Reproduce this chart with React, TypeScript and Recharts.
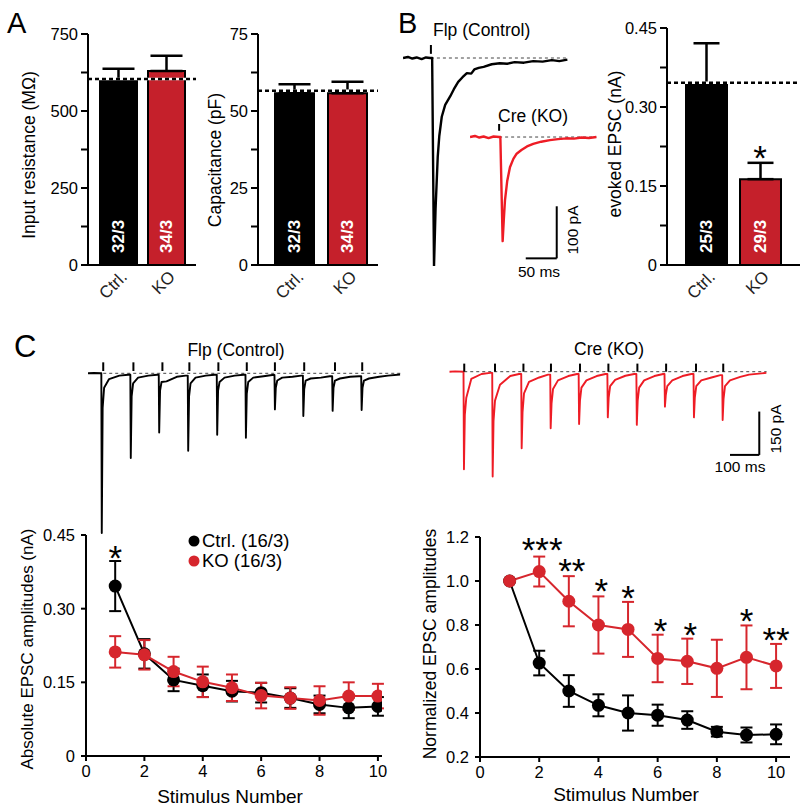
import React from 'react';
import {
  ComposedChart, LineChart, Bar, Line, XAxis, YAxis, ErrorBar, ReferenceLine, ReferenceDot, LabelList, Cell,
} from 'recharts';

const W = 800;
const H = 811;
const FONT = "'Liberation Sans', Arial, Helvetica, sans-serif";
const BLACK = '#000000';
const RED_BAR = '#c5202b';
const RED = '#d6262d';
const TRACE_RED = '#ee1c25';

// ---------- Panel A / B bar data ----------
const groups = ['Ctrl.', 'KO'];
const barColors = [BLACK, RED_BAR];

const resistance = [600, 630];
const resistanceErr = [37, 49];
const resistanceRef = 604;
const resistanceN = ['32/3', '34/3'];
const resistanceTicks = [0, 125, 250, 375, 500, 625, 750];
const resistanceTickLabels = ['0', '', '250', '', '500', '', '750'];

const capacitance = [55.8, 55.8];
const capacitanceErr = [2.9, 3.7];
const capacitanceRef = 56.6;
const capacitanceN = ['32/3', '34/3'];
const capacitanceTicks = [0, 12.5, 25, 37.5, 50, 62.5, 75];
const capacitanceTickLabels = ['0', '', '25', '', '50', '', '75'];

const evoked = [0.342, 0.163];
const evokedErr = [0.079, 0.031];
const evokedRef = 0.346;
const evokedN = ['25/3', '29/3'];
const evokedTicks = [0, 0.075, 0.15, 0.225, 0.3, 0.375, 0.45];
const evokedTickLabels = ['0', '', '0.15', '', '0.30', '', '0.45'];
const evokedStars = [{ name: 'KO', y: 0.218, label: '*' }];

// ---------- Panel C line data ----------
const stimulus = [1, 2, 3, 4, 5, 6, 7, 8, 9, 10];
const absCtrl = [0.346, 0.208, 0.155, 0.143, 0.132, 0.129, 0.118, 0.105, 0.098, 0.101];
const absCtrlErr = [0.051, 0.03, 0.023, 0.023, 0.021, 0.02, 0.02, 0.018, 0.021, 0.019];
const absKO = [0.212, 0.206, 0.172, 0.151, 0.139, 0.123, 0.118, 0.113, 0.122, 0.122];
const absKOErr = [0.032, 0.03, 0.03, 0.031, 0.027, 0.026, 0.022, 0.029, 0.028, 0.025];
const absTicksY = [0, 0.15, 0.3, 0.45];
const absTickLabelsY = ['0', '0.15', '0.30', '0.45'];
const absStars = [{ x: 1, y: 0.419, label: '*' }];

const normCtrl = [1.0, 0.627, 0.5, 0.435, 0.4, 0.39, 0.368, 0.315, 0.3, 0.303];
const normCtrlErr = [0, 0.056, 0.072, 0.05, 0.08, 0.048, 0.04, 0.022, 0.034, 0.045];
const normKO = [1.0, 1.043, 0.908, 0.8, 0.78, 0.648, 0.635, 0.603, 0.653, 0.614];
const normKOErr = [0, 0.068, 0.114, 0.13, 0.125, 0.108, 0.103, 0.13, 0.145, 0.1];
const normTicksY = [0.2, 0.4, 0.6, 0.8, 1.0, 1.2];
const normTickLabelsY = ['0.2', '0.4', '0.6', '0.8', '1.0', '1.2'];
const normStars = [
  { x: 2.1, y: 1.179, label: '***' },
  { x: 3.1, y: 1.082, label: '**' },
  { x: 4.1, y: 0.99, label: '*' },
  { x: 5.0, y: 0.959, label: '*' },
  { x: 6.1, y: 0.809, label: '*' },
  { x: 7.1, y: 0.791, label: '*' },
  { x: 9.0, y: 0.855, label: '*' },
  { x: 10.0, y: 0.768, label: '**' },
];
const stimTicksX = [0, 2, 4, 6, 8, 10];

// ---------- Traces (ms, pA) ----------
const bCtrlT = [0, 8, 15, 22, 30, 37, 44, 47, 50, 52.5, 56, 58.5, 62.5, 68, 76, 82, 89, 96, 103, 110, 115, 122, 130, 143, 156, 168, 180, 195, 210, 225, 240, 252, 265];
const bCtrlV = [0, 2, -1, 1, -2, 1, 0, 0, -400, -290, -190, -150, -113, -90, -74, -60, -46, -37, -29, -30, -22, -19, -17, -12, -10, -11, -8, -9, -6, -7, -4, -6, -3];
const bCtrlStim = 45;
const bKOT = [0, 8, 15, 22, 30, 38, 47, 49, 52.7, 54.5, 56.5, 60, 64.5, 70, 75.3, 83, 92, 102, 115, 129, 142, 156, 168, 180, 192, 204];
const bKOV = [0, 2, -1, 1, -2, 1, 0, 0, -200, -160, -121, -85, -58, -42, -32, -25, -18, -13, -9, -6, -4, -2.5, -3, -1, -2, 0];
const bKOStim = 47;
const scaleB = { t: 140, v: -233, dt: 50, dv: 100 };

const trainOffsets = [3, 8, 25, 60, 90];
const ctrlTrainStim = [52, 155, 254, 346, 445, 542, 638, 738, 843, 936];
const ctrlTrainPeakT = [47, 146, 243, 342, 441, 539, 638, 735, 835, 934];
const ctrlTrainPeak = [-553, -293, -205, -268, -213, -223, -125, -148, -130, -127];
const ctrlTrainResid = [
  [-120, -50, -20, -8, -5],
  [-80, -35, -15, -8, -5],
  [-60, -30, -28, -12, -8],
  [-80, -35, -15, -8, -5],
  [-60, -30, -15, -8, -5],
  [-70, -30, -15, -10, -6],
  [-50, -25, -15, -12, -8],
  [-55, -25, -18, -15, -10],
  [-50, -25, -18, -12, -10],
  [-50, -25, -18, -12, -8],
];
const ctrlTrainEnd = 1066;

const koTrainStim = [51, 156, 253, 347, 446, 543, 642, 740, 842, 935];
const koTrainPeakT = [50, 148, 247, 346, 443, 541, 640, 736, 835, 933];
const koTrainPeak = [-338, -363, -265, -196, -181, -158, -184, -121, -158, -167];
const koTrainResid = [
  [-150, -90, -25, -8, -4],
  [-170, -100, -45, -15, -8],
  [-140, -75, -35, -20, -10],
  [-110, -60, -30, -15, -8],
  [-100, -55, -30, -15, -8],
  [-90, -50, -28, -14, -8],
  [-100, -55, -30, -15, -8],
  [-80, -50, -30, -15, -8],
  [-90, -50, -30, -20, -12],
  [-95, -50, -30, -18, -10],
];
const koTrainEnd = 1083;
const scaleC = { t: 1058, v: -288, dt: 100, dv: 150 };

const buildTrain = (peakT: number[], peakV: number[], resid: number[][], end: number) => {
  const pts: { t: number; v: number }[] = [{ t: 0, v: 0 }, { t: 20, v: 1 }];
  let last = 0;
  peakT.forEach((tp, i) => {
    pts.push({ t: tp - 1.5, v: last });
    pts.push({ t: tp, v: peakV[i] });
    trainOffsets.forEach((o, j) => pts.push({ t: tp + o, v: resid[i][j] }));
    last = resid[i][resid[i].length - 1];
  });
  pts.push({ t: end, v: -4 });
  return pts;
};

const abs: React.CSSProperties = { position: 'absolute', left: 0, top: 0 };
const axisStyle = { stroke: BLACK, strokeWidth: 2 };
const tickStyle = { fill: BLACK, fontSize: 16.5, fontFamily: FONT };

const RotTick = (props: any) => {
  const { x, y, payload } = props;
  const ax = x + 10;
  const ay = y + 13;
  return (
    <text x={ax} y={ay} transform={`rotate(-45 ${ax} ${ay})`} textAnchor="end" fontSize={17} fill="#222" fontFamily={FONT}>
      {payload.value}
    </text>
  );
};

const InnerLabel = (props: any) => {
  const { x, y, width, height, value } = props;
  const cx = x + width / 2;
  const by = y + height - 12;
  return (
    <text x={cx} y={by} transform={`rotate(-90 ${cx} ${by})`} fill="#fff" fontWeight="bold" fontSize={17}
      textAnchor="start" dominantBaseline="central" fontFamily={FONT}>
      {value}
    </text>
  );
};

const starShape = (label: string) => (p: any) => (
  <text x={p.cx} y={p.cy + 0.57 * 35} textAnchor="middle" fontSize={35} fill={BLACK} fontFamily={FONT}>{label}</text>
);

type BarProps = {
  x0: number; x1: number; y0: number; y1: number; max: number; ticks: number[]; tickLabels: string[];
  values: number[]; errors: number[]; refY: number; nLabels: string[]; padL: number; padR: number;
  barSize: number; capHalf: number; stars?: { name: string; y: number; label: string }[];
};

function BarPanel(p: BarProps) {
  const yW = 50;
  const xH = 40;
  const data = groups.map((g, i) => ({ name: g, v: p.values[i], err: [0, p.errors[i]], n: p.nLabels[i] }));
  return (
    <div style={abs}>
      <ComposedChart width={W} height={H} data={data}
        margin={{ left: p.x0 - yW, right: W - p.x1, top: p.y0, bottom: H - p.y1 - xH }}>
        <XAxis dataKey="name" type="category" height={xH} padding={{ left: p.padL, right: p.padR }}
          axisLine={axisStyle} tickLine={false} tickSize={0} tickMargin={0} interval={0} tick={<RotTick />} />
        <YAxis width={yW} type="number" domain={[0, p.max]} ticks={p.ticks} interval={0}
          tickFormatter={(v: number) => p.tickLabels[p.ticks.indexOf(v)] ?? ''}
          axisLine={axisStyle} tickLine={axisStyle} tickSize={7} tickMargin={3} tick={tickStyle} />
        <Bar dataKey="v" barSize={p.barSize} stroke={BLACK} strokeWidth={2} isAnimationActive={false}>
          {data.map((d, i) => <Cell key={d.name} fill={barColors[i]} />)}
          <ErrorBar dataKey="err" width={p.capHalf} stroke={BLACK} strokeWidth={2.5} direction="y" />
          <LabelList dataKey="n" content={InnerLabel} />
        </Bar>
        <ReferenceLine y={p.refY} stroke="#ffffff" strokeWidth={2.5} />
        <ReferenceLine y={p.refY} stroke={BLACK} strokeWidth={2.5} strokeDasharray="4 3" />
        {(p.stars || []).map((s, i) => (
          <ReferenceDot key={i} x={s.name} y={s.y} r={1} shape={starShape(s.label)} />
        ))}
      </ComposedChart>
    </div>
  );
}

type LineProps = {
  x0: number; x1: number; y0: number; y1: number; xMax: number; yDomain: [number, number];
  yTicks: number[]; yTickLabels: string[]; ctrl: number[]; ctrlErr: number[]; ko: number[]; koErr: number[];
  stars: { x: number; y: number; label: string }[];
};

function LinePanel(p: LineProps) {
  const yW = 50;
  const xH = 40;
  const data = stimulus.map((s, i) => ({ x: s, ctrl: p.ctrl[i], ctrlErr: p.ctrlErr[i], ko: p.ko[i], koErr: p.koErr[i] }));
  return (
    <div style={abs}>
      <ComposedChart width={W} height={H} data={data}
        margin={{ left: p.x0 - yW, right: W - p.x1, top: p.y0, bottom: H - p.y1 - xH }}>
        <XAxis dataKey="x" type="number" domain={[0, p.xMax]} allowDataOverflow ticks={stimTicksX} interval={0}
          height={xH} axisLine={axisStyle} tickLine={axisStyle} tickSize={5} tickMargin={4} tick={tickStyle} />
        <YAxis width={yW} type="number" domain={p.yDomain} allowDataOverflow ticks={p.yTicks} interval={0}
          tickFormatter={(v: number) => p.yTickLabels[p.yTicks.indexOf(v)] ?? ''}
          axisLine={axisStyle} tickLine={axisStyle} tickSize={5} tickMargin={6} tick={tickStyle} />
        <Line dataKey="ctrl" stroke={BLACK} strokeWidth={2} isAnimationActive={false}
          dot={{ r: 6.5, fill: BLACK, stroke: BLACK, strokeWidth: 0 }} activeDot={false}>
          <ErrorBar dataKey="ctrlErr" width={6} stroke={BLACK} strokeWidth={2} direction="y" />
        </Line>
        <Line dataKey="ko" stroke={RED} strokeWidth={2} isAnimationActive={false}
          dot={{ r: 6.5, fill: RED, stroke: RED, strokeWidth: 0 }} activeDot={false}>
          <ErrorBar dataKey="koErr" width={6} stroke={RED} strokeWidth={2} direction="y" />
        </Line>
        {p.stars.map((s, i) => (
          <ReferenceDot key={i} x={s.x} y={s.y} r={1} shape={starShape(s.label)} />
        ))}
      </ComposedChart>
    </div>
  );
}

type TraceProps = {
  x0: number; x1: number; y0: number; y1: number; tDomain: [number, number]; vDomain: [number, number];
  data: { t: number; v: number }[]; color: string; stims: number[]; stimFrom: number; stimTo: number;
  baseFrom: number; baseTo: number; strokeWidth: number;
  scale?: { t: number; v: number; dt: number; dv: number };
};

function TracePanel(p: TraceProps) {
  return (
    <div style={abs}>
      <LineChart width={W} height={H} data={p.data}
        margin={{ left: p.x0, right: W - p.x1, top: p.y0, bottom: H - p.y1 }}>
        <XAxis dataKey="t" type="number" domain={p.tDomain} allowDataOverflow hide />
        <YAxis type="number" domain={p.vDomain} allowDataOverflow hide />
        <ReferenceLine segment={[{ x: p.baseFrom, y: 0 }, { x: p.baseTo, y: 0 }]} stroke="#444" strokeWidth={1}
          strokeDasharray="3 3" />
        <Line dataKey="v" type="linear" stroke={p.color} strokeWidth={p.strokeWidth} dot={false} activeDot={false}
          isAnimationActive={false} strokeLinejoin="round" />
        {p.stims.map((s, i) => (
          <ReferenceLine key={i} segment={[{ x: s, y: p.stimFrom }, { x: s, y: p.stimTo }]} stroke={BLACK} strokeWidth={2} />
        ))}
        {p.scale && (
          <ReferenceLine segment={[{ x: p.scale.t, y: p.scale.v }, { x: p.scale.t, y: p.scale.v + p.scale.dv }]}
            stroke={BLACK} strokeWidth={2} />
        )}
        {p.scale && (
          <ReferenceLine segment={[{ x: p.scale.t - p.scale.dt, y: p.scale.v }, { x: p.scale.t, y: p.scale.v }]}
            stroke={BLACK} strokeWidth={2} />
        )}
      </LineChart>
    </div>
  );
}

const T = (props: any) => <text fontFamily={FONT} fill={BLACK} {...props} />;
const VT = ({ x, y, size, children }: any) => (
  <text x={x} y={y} transform={`rotate(-90 ${x} ${y})`} textAnchor="middle" dominantBaseline="central"
    fontSize={size} fontFamily={FONT} fill={BLACK}>{children}</text>
);

export default function App() {
  const bCtrl = bCtrlT.map((t, i) => ({ t, v: bCtrlV[i] }));
  const bKO = bKOT.map((t, i) => ({ t, v: bKOV[i] }));
  const ctrlTrain = buildTrain(ctrlTrainPeakT, ctrlTrainPeak, ctrlTrainResid, ctrlTrainEnd);
  const koTrain = buildTrain(koTrainPeakT, koTrainPeak, koTrainResid, koTrainEnd);
  return (
    <div style={{ position: 'absolute', left: 0, top: 0, width: W, height: H, background: '#fff', fontFamily: FONT, overflow: 'hidden' }}>
      <BarPanel x0={88} x1={196} y0={34} y1={265} max={750} ticks={resistanceTicks} tickLabels={resistanceTickLabels}
        values={resistance} errors={resistanceErr} refY={resistanceRef} nLabels={resistanceN}
        padL={6} padR={6} barSize={37} capHalf={16} />
      <BarPanel x0={258} x1={378} y0={34} y1={265} max={75} ticks={capacitanceTicks} tickLabels={capacitanceTickLabels}
        values={capacitance} errors={capacitanceErr} refY={capacitanceRef} nLabels={capacitanceN}
        padL={10} padR={4} barSize={39} capHalf={16} />
      <BarPanel x0={667} x1={800} y0={28} y1={265} max={0.45} ticks={evokedTicks} tickLabels={evokedTickLabels}
        values={evoked} errors={evokedErr} refY={evokedRef} nLabels={evokedN}
        padL={12} padR={13} barSize={41} capHalf={13} stars={evokedStars} />

      <TracePanel x0={403} x1={568} y0={45} y1={266} tDomain={[0, 266]} vDomain={[-400, 25]} data={bCtrl}
        color={BLACK} stims={[bCtrlStim]} stimFrom={8} stimTo={25} baseFrom={bCtrlStim} baseTo={265} strokeWidth={2.4} />
      <TracePanel x0={470} x1={597} y0={124} y1={262} tDomain={[0, 205]} vDomain={[-240, 25]} data={bKO}
        color={TRACE_RED} stims={[bKOStim]} stimFrom={12} stimTo={25} baseFrom={bKOStim} baseTo={204} strokeWidth={2.4}
        scale={scaleB} />

      <TracePanel x0={88} x1={400.3} y0={360.3} y1={535.1} tDomain={[0, ctrlTrainEnd]} vDomain={[-560, 45]}
        data={ctrlTrain} color={BLACK} stims={ctrlTrainStim} stimFrom={8} stimTo={38}
        baseFrom={ctrlTrainStim[0]} baseTo={ctrlTrainEnd} strokeWidth={1.9} />
      <TracePanel x0={449.3} x1={766.6} y0={358.7} y1={478.6} tDomain={[0, koTrainEnd]} vDomain={[-370, 45]}
        data={koTrain} color={TRACE_RED} stims={koTrainStim} stimFrom={0} stimTo={28}
        baseFrom={koTrainStim[0]} baseTo={koTrainEnd} strokeWidth={1.9} scale={scaleC} />

      <LinePanel x0={86} x1={382} y0={535} y1={756} xMax={10.14} yDomain={[0, 0.45]} yTicks={absTicksY}
        yTickLabels={absTickLabelsY} ctrl={absCtrl} ctrlErr={absCtrlErr} ko={absKO} koErr={absKOErr} stars={absStars} />
      <LinePanel x0={480} x1={790} y0={537} y1={757} xMax={10.47} yDomain={[0.2, 1.2]} yTicks={normTicksY}
        yTickLabels={normTickLabelsY} ctrl={normCtrl} ctrlErr={normCtrlErr} ko={normKO} koErr={normKOErr} stars={normStars} />

      <svg width={W} height={H} style={{ ...abs, pointerEvents: 'none' }}>
        <T x={7} y={33} fontSize={29}>A</T>
        <T x={398} y={33} fontSize={29}>B</T>
        <T x={14} y={357} fontSize={31}>C</T>

        <VT x={29} y={155} size={17.5}>Input resistance (MΩ)</VT>
        <VT x={215} y={160} size={17.5}>Capacitance (pF)</VT>
        <VT x={615} y={144} size={17.5}>evoked EPSC (nA)</VT>

        <T x={433} y={36} fontSize={17.5}>Flp (Control)</T>
        <T x={498} y={122} fontSize={17.5}>Cre (KO)</T>
        <T x={539} y={277} fontSize={15.5} textAnchor="middle">50 ms</T>
        <VT x={572} y={230} size={15.5}>100 pA</VT>

        <T x={236} y={356} fontSize={17.5} textAnchor="middle">Flp (Control)</T>
        <T x={609} y={355} fontSize={17.5} textAnchor="middle">Cre (KO)</T>
        <VT x={775} y={429} size={15.5}>150 pA</VT>
        <T x={740} y={472} fontSize={15.5} textAnchor="middle">100 ms</T>

        <circle cx={194} cy={541} r={5.5} fill={BLACK} />
        <T x={202} y={547} fontSize={18.5}>Ctrl. (16/3)</T>
        <circle cx={194} cy={561} r={5.5} fill={RED} />
        <T x={202} y={567} fontSize={18.5}>KO (16/3)</T>

        <VT x={27} y={649} size={17}>Absolute EPSC amplitudes (nA)</VT>
        <VT x={430} y={644} size={17.5}>Normalized EPSC amplitudes</VT>
        <T x={230} y={803} fontSize={19} textAnchor="middle">Stimulus Number</T>
        <T x={626} y={801} fontSize={19} textAnchor="middle">Stimulus Number</T>
      </svg>
    </div>
  );
}
